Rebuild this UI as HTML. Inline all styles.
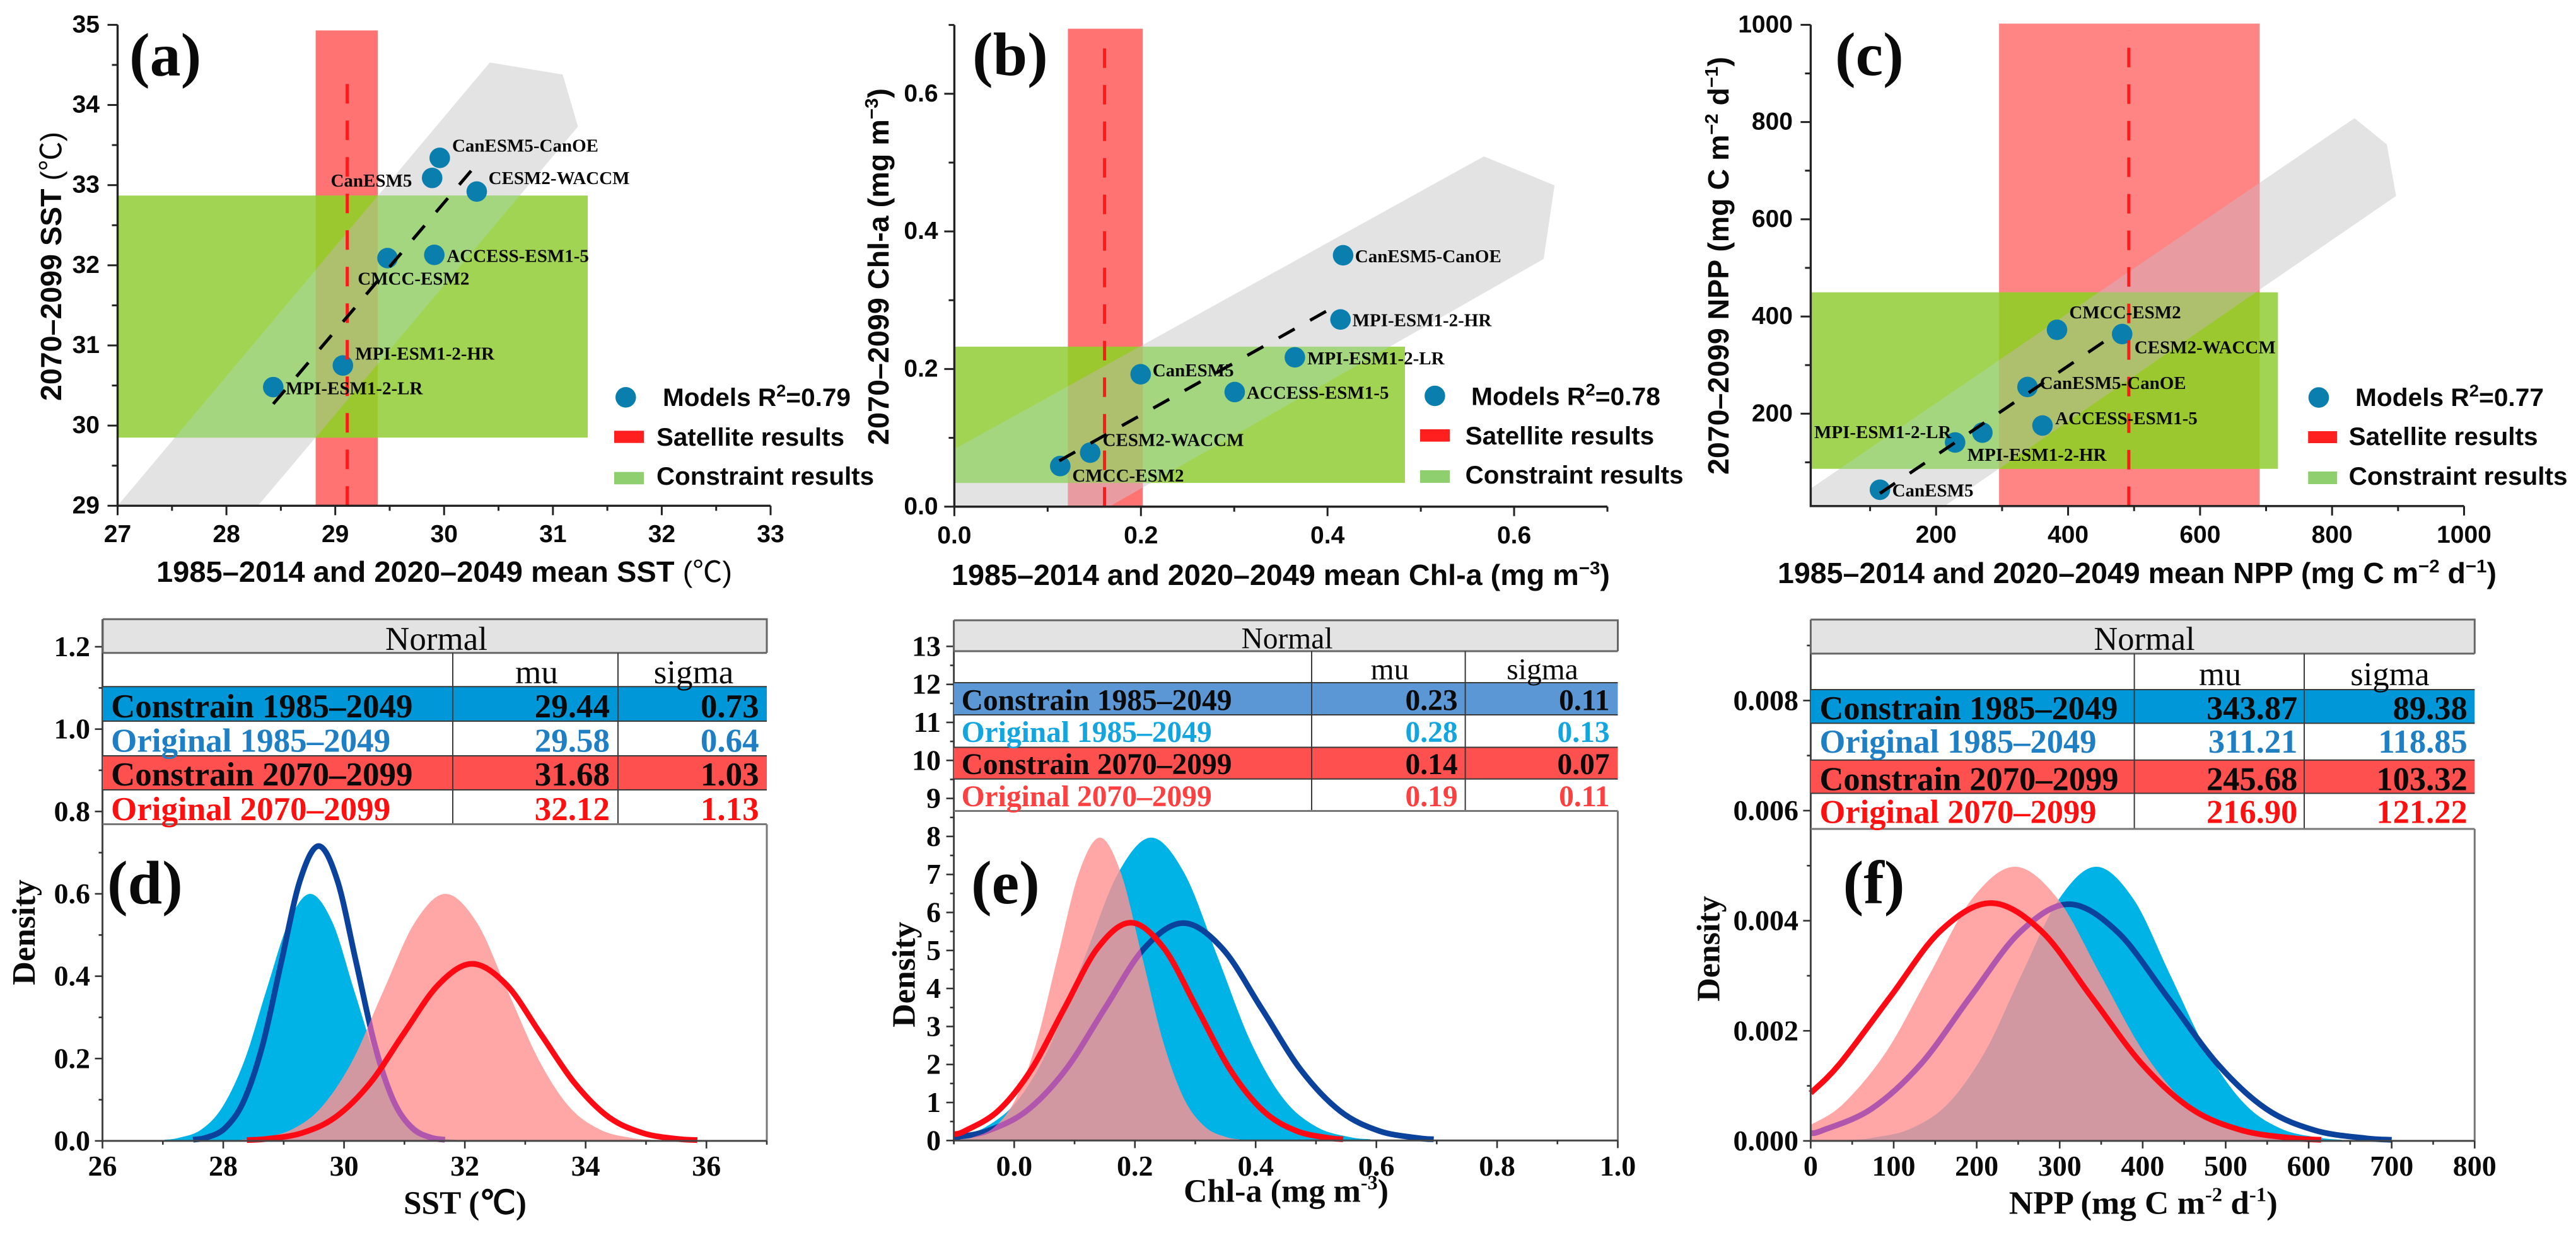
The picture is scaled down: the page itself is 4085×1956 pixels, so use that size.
<!DOCTYPE html>
<html lang="en">
<head>
<meta charset="utf-8">
<title>SST, Chl-a and NPP constraint figure</title>
<style>
html,body{margin:0;padding:0;background:#fff}
svg{display:block}
text{fill:#0a0a0a}
.sans{font-family:"Liberation Sans",Arial,sans-serif;font-weight:700}
.serif{font-family:"Liberation Serif","Times New Roman",serif;font-weight:700}
.tick-sans{font-family:"Liberation Sans",Arial,sans-serif;font-weight:700;font-size:39px}
.tick-serif{font-family:"Liberation Serif","Times New Roman",serif;font-weight:700;font-size:46px}
.title{font-family:"Liberation Sans",Arial,sans-serif;font-weight:700;font-size:46px}
.thin{font-family:"Liberation Sans","Noto Sans CJK SC",sans-serif;font-weight:400}
.leg{font-family:"Liberation Sans",Arial,sans-serif;font-weight:700;font-size:40px}
.letter{font-family:"Liberation Serif","Times New Roman",serif;font-weight:700;font-size:98px}
.model{font-family:"Liberation Serif","Times New Roman",serif;font-weight:700;font-size:29px}
.stitle{font-family:"Liberation Serif","Times New Roman",serif;font-weight:700;font-size:52px}
.tb{font-family:"Liberation Serif","Times New Roman",serif;font-weight:700}
.tn{font-family:"Liberation Serif","Times New Roman",serif;font-weight:400}
.end{text-anchor:end}
.mid{text-anchor:middle}
</style>
</head>
<body>
<svg id="figure" xmlns="http://www.w3.org/2000/svg" width="4085" height="1956" viewBox="0 0 4085 1956">
<defs id="clips"></defs>

<g id="panel-a"></g>
<g id="panel-b"></g>
<g id="panel-c"></g>
<g id="panel-d"></g>
<g id="panel-e"></g>
<g id="panel-f"></g>

<!-- panel a text -->
<g>
<text class="letter" x="205" y="120">(a)</text>
<text class="title" x="248" y="923" textLength="913" lengthAdjust="spacingAndGlyphs">1985–2014 and 2020–2049 mean SST <tspan class="thin">(℃)</tspan></text>
<text class="title" x="97" y="636" textLength="427" lengthAdjust="spacingAndGlyphs" transform="rotate(-90 97 636)">2070–2099 SST <tspan class="thin">(℃)</tspan></text>
<circle cx="992.3" cy="630.3" r="16.3" fill="#0a7fae"/>
<text class="leg" x="1051" y="644" textLength="298" lengthAdjust="spacingAndGlyphs">Models R<tspan font-size="27" dy="-15">2</tspan><tspan dy="15">=0.79</tspan></text>
<rect x="974" y="683.3" width="47" height="19.4" fill="#ff1f1f"/>
<text class="leg" x="1041" y="707" textLength="298" lengthAdjust="spacingAndGlyphs">Satellite results</text>
<rect x="974" y="748.7" width="47" height="19.6" fill="#90cf6f"/>
<text class="leg" x="1041" y="769" textLength="345" lengthAdjust="spacingAndGlyphs">Constraint results</text>
</g>

<!-- panel b text -->
<g>
<text class="letter" x="1542" y="119">(b)</text>
<text class="title" x="1509" y="928" textLength="1044" lengthAdjust="spacingAndGlyphs">1985–2014 and 2020–2049 mean Chl-a (mg m<tspan font-size="29" dy="-17">−3</tspan><tspan dy="17">)</tspan></text>
<text class="title" x="1409" y="706" textLength="566" lengthAdjust="spacingAndGlyphs" transform="rotate(-90 1409 706)">2070–2099 Chl-a (mg m<tspan font-size="29" dy="-17">−3</tspan><tspan dy="17">)</tspan></text>
<circle cx="2275.4" cy="628" r="16.3" fill="#0a7fae"/>
<text class="leg" x="2333" y="642.5" textLength="300" lengthAdjust="spacingAndGlyphs">Models R<tspan font-size="27" dy="-15">2</tspan><tspan dy="15">=0.78</tspan></text>
<rect x="2252" y="681" width="47" height="19.6" fill="#ff1f1f"/>
<text class="leg" x="2323.6" y="705" textLength="299.6" lengthAdjust="spacingAndGlyphs">Satellite results</text>
<rect x="2252" y="746" width="47" height="20" fill="#90cf6f"/>
<text class="leg" x="2323.6" y="767" textLength="346" lengthAdjust="spacingAndGlyphs">Constraint results</text>
</g>

<!-- panel c text -->
<g>
<text class="letter" x="2910" y="119">(c)</text>
<text class="title" x="2819" y="925" textLength="1140" lengthAdjust="spacingAndGlyphs">1985–2014 and 2020–2049 mean NPP (mg C m<tspan font-size="29" dy="-17">−2</tspan><tspan dy="17"> d</tspan><tspan font-size="29" dy="-17">−1</tspan><tspan dy="17">)</tspan></text>
<text class="title" x="2741" y="753" textLength="663" lengthAdjust="spacingAndGlyphs" transform="rotate(-90 2741 753)">2070–2099 NPP (mg C m<tspan font-size="29" dy="-17">−2</tspan><tspan dy="17"> d</tspan><tspan font-size="29" dy="-17">−1</tspan><tspan dy="17">)</tspan></text>
<circle cx="3677" cy="630.6" r="16.3" fill="#0a7fae"/>
<text class="leg" x="3735" y="644" textLength="299" lengthAdjust="spacingAndGlyphs">Models R<tspan font-size="27" dy="-15">2</tspan><tspan dy="15">=0.77</tspan></text>
<rect x="3660.2" y="684" width="46" height="19" fill="#ff1f1f"/>
<text class="leg" x="3724.6" y="706" textLength="300" lengthAdjust="spacingAndGlyphs">Satellite results</text>
<rect x="3660.2" y="748" width="46" height="20" fill="#90cf6f"/>
<text class="leg" x="3724.6" y="769" textLength="347" lengthAdjust="spacingAndGlyphs">Constraint results</text>
</g>

<!-- panel d table -->
<g>
<rect x="163" y="982.3" width="1053" height="53.4" fill="#e3e3e3"/>
<rect x="163" y="1089.3" width="1053" height="54.7" fill="#0097d8"/>
<rect x="163" y="1199" width="1053" height="54" fill="#ff5050"/>
<path d="M163 982.3H1216V1035.7M163 982.3V1035.7M163 1035.7H1216" fill="none" stroke="#666" stroke-width="3"/>
<path d="M163 1089.3H1216M163 1144H1216M163 1199H1216M163 1253H1216M718 1035.7V1307.5M980 1035.7V1307.5" fill="none" stroke="#3a3a3a" stroke-width="2"/>
<path d="M163 1307.5H1216" fill="none" stroke="#777" stroke-width="3"/>
<text class="tn mid" font-size="53" x="692" y="1031">Normal</text>
<text class="tn mid" font-size="53" x="851" y="1084">mu</text>
<text class="tn mid" font-size="53" x="1100" y="1084">sigma</text>
<text class="tb" font-size="53" x="176" y="1138">Constrain 1985–2049</text>
<text class="tb end" font-size="53" x="967" y="1138">29.44</text>
<text class="tb end" font-size="53" x="1203.6" y="1138">0.73</text>
<text class="tb" font-size="53" x="176" y="1192.5" style="fill:#1e7fc4">Original 1985–2049</text>
<text class="tb end" font-size="53" x="967" y="1192.5" style="fill:#1e7fc4">29.58</text>
<text class="tb end" font-size="53" x="1203.6" y="1192.5" style="fill:#1e7fc4">0.64</text>
<text class="tb" font-size="53" x="176" y="1246">Constrain 2070–2099</text>
<text class="tb end" font-size="53" x="967" y="1246">31.68</text>
<text class="tb end" font-size="53" x="1203.6" y="1246">1.03</text>
<text class="tb" font-size="53" x="176" y="1301" style="fill:#ff1010">Original 2070–2099</text>
<text class="tb end" font-size="53" x="967" y="1301" style="fill:#ff1010">32.12</text>
<text class="tb end" font-size="53" x="1203.6" y="1301" style="fill:#ff1010">1.13</text>
<text class="letter" x="170" y="1433">(d)</text>
<text class="stitle" x="640" y="1925.5" textLength="195" lengthAdjust="spacingAndGlyphs">SST (℃)</text>
<text class="stitle mid" x="55" y="1479" transform="rotate(-90 55 1479)">Density</text>
</g>

<!-- panel e table -->
<g>
<rect x="1512.6" y="984" width="1052.9" height="49" fill="#e3e3e3"/>
<rect x="1512.6" y="1083" width="1052.9" height="51" fill="#5b97d5"/>
<rect x="1512.6" y="1185.5" width="1052.9" height="50.2" fill="#ff5050"/>
<path d="M1512.6 984H2565.5V1033M1512.6 984V1033M1512.6 1033H2565.5" fill="none" stroke="#666" stroke-width="3"/>
<path d="M1512.6 1083H2565.5M1512.6 1134H2565.5M1512.6 1185.5H2565.5M1512.6 1235.7H2565.5M2080 1033V1286.5M2323.6 1033V1286.5" fill="none" stroke="#3a3a3a" stroke-width="2"/>
<path d="M1512.6 1286.5H2565.5" fill="none" stroke="#777" stroke-width="3"/>
<text class="tn mid" font-size="47.5" x="2041" y="1028.6">Normal</text>
<text class="tn mid" font-size="47.5" x="2204" y="1077.5">mu</text>
<text class="tn mid" font-size="47.5" x="2446" y="1077.5">sigma</text>
<text class="tb" font-size="47.5" x="1524.6" y="1126.4">Constrain 1985–2049</text>
<text class="tb end" font-size="47.5" x="2311.6" y="1126.4">0.23</text>
<text class="tb end" font-size="47.5" x="2552.6" y="1126.4">0.11</text>
<text class="tb" font-size="47.5" x="1524.6" y="1177" style="fill:#12a5e0">Original 1985–2049</text>
<text class="tb end" font-size="47.5" x="2311.6" y="1177" style="fill:#12a5e0">0.28</text>
<text class="tb end" font-size="47.5" x="2552.6" y="1177" style="fill:#12a5e0">0.13</text>
<text class="tb" font-size="47.5" x="1524.6" y="1228">Constrain 2070–2099</text>
<text class="tb end" font-size="47.5" x="2311.6" y="1228">0.14</text>
<text class="tb end" font-size="47.5" x="2552.6" y="1228">0.07</text>
<text class="tb" font-size="47.5" x="1524.6" y="1279" style="fill:#ff4040">Original 2070–2099</text>
<text class="tb end" font-size="47.5" x="2311.6" y="1279" style="fill:#ff4040">0.19</text>
<text class="tb end" font-size="47.5" x="2552.6" y="1279" style="fill:#ff4040">0.11</text>
<text class="letter" x="1540" y="1433">(e)</text>
<text class="stitle" x="1877" y="1906.5" textLength="325" lengthAdjust="spacingAndGlyphs">Chl-a (mg m<tspan font-size="32" dy="-20">-3</tspan><tspan dy="20">)</tspan></text>
<text class="stitle mid" x="1450.6" y="1546" transform="rotate(-90 1450.6 1546)">Density</text>
</g>

<!-- panel f table -->
<g>
<rect x="2871.4" y="982.9" width="1052.9" height="54" fill="#e3e3e3"/>
<rect x="2871.4" y="1094" width="1052.9" height="53.4" fill="#0097d8"/>
<rect x="2871.4" y="1205.8" width="1052.9" height="52.7" fill="#ff5050"/>
<path d="M2871.4 982.9H3924.3V1036.9M2871.4 982.9V1036.9M2871.4 1036.9H3924.3" fill="none" stroke="#666" stroke-width="3"/>
<path d="M2871.4 1094H3924.3M2871.4 1147.4H3924.3M2871.4 1205.8H3924.3M2871.4 1258.5H3924.3M3384.6 1036.9V1315M3654 1036.9V1315" fill="none" stroke="#3a3a3a" stroke-width="2"/>
<path d="M2871.4 1315H3924.3" fill="none" stroke="#777" stroke-width="3"/>
<text class="tn mid" font-size="52.5" x="3400.5" y="1031">Normal</text>
<text class="tn mid" font-size="52.5" x="3520.6" y="1087">mu</text>
<text class="tn mid" font-size="52.5" x="3790" y="1087">sigma</text>
<text class="tb" font-size="52.5" x="2885.5" y="1141" textLength="473" lengthAdjust="spacingAndGlyphs">Constrain 1985–2049</text>
<text class="tb end" font-size="52.5" x="3643.4" y="1141">343.87</text>
<text class="tb end" font-size="52.5" x="3912.8" y="1141">89.38</text>
<text class="tb" font-size="52.5" x="2885.5" y="1193.8" style="fill:#1e7fc4">Original 1985–2049</text>
<text class="tb end" font-size="52.5" x="3643.4" y="1193.8" style="fill:#1e7fc4">311.21</text>
<text class="tb end" font-size="52.5" x="3912.8" y="1193.8" style="fill:#1e7fc4">118.85</text>
<text class="tb" font-size="52.5" x="2885.5" y="1253.5">Constrain 2070–2099</text>
<text class="tb end" font-size="52.5" x="3643.4" y="1253.5">245.68</text>
<text class="tb end" font-size="52.5" x="3912.8" y="1253.5">103.32</text>
<text class="tb" font-size="52.5" x="2885.5" y="1305.5" style="fill:#ff1010">Original 2070–2099</text>
<text class="tb end" font-size="52.5" x="3643.4" y="1305.5" style="fill:#ff1010">216.90</text>
<text class="tb end" font-size="52.5" x="3912.8" y="1305.5" style="fill:#ff1010">121.22</text>
<text class="letter" x="2922.6" y="1433">(f)</text>
<text class="stitle" x="3185.8" y="1925.5" textLength="426" lengthAdjust="spacingAndGlyphs">NPP (mg C m<tspan font-size="32" dy="-20">-2</tspan><tspan dy="20"> d</tspan><tspan font-size="32" dy="-20">-1</tspan><tspan dy="20">)</tspan></text>
<text class="stitle mid" x="2726.5" y="1505" transform="rotate(-90 2726.5 1505)">Density</text>
</g>
</svg>

<script>
/* ---------- Panel (a) data ---------- */
const aModels = ['CanESM5-CanOE','CanESM5','CESM2-WACCM','CMCC-ESM2','ACCESS-ESM1-5','MPI-ESM1-2-HR','MPI-ESM1-2-LR'];
const aModelX = [29.96,29.89,30.30,29.48,29.91,29.07,28.43];
const aModelY = [33.34,33.09,32.92,32.09,32.13,30.75,30.48];
const aFitX = [28.43,30.28];
const aFitY = [30.27,33.23];
const aSatelliteX = [28.82,29.39];
const aSatelliteMean = [29.11];
const aSatelliteTop = [34.93];
const aSatelliteMeanTop = [34.28];
const aConstraintX = [27,31.32];
const aConstraintY = [29.85,32.87];
const aSpreadX = [27,30.42,31.09,31.23,28.29];
const aSpreadY = [29,34.53,34.38,33.73,29];
const aXTicks = [27,28,29,30,31,32,33];
const aXLabels = ['27','28','29','30','31','32','33'];
const aXMinor = [27.5,28.5,29.5,30.5,31.5,32.5];
const aYTicks = [29,30,31,32,33,34,35];
const aYLabels = ['29','30','31','32','33','34','35'];
const aYMinor = [29.5,30.5,31.5,32.5,33.5,34.5];

/* ---------- Panel (b) data ---------- */
const bModels = ['CanESM5-CanOE','MPI-ESM1-2-HR','MPI-ESM1-2-LR','CanESM5','ACCESS-ESM1-5','CESM2-WACCM','CMCC-ESM2'];
const bModelX = [0.4167,0.4139,0.365,0.1997,0.3005,0.1456,0.1135];
const bModelY = [0.3653,0.272,0.217,0.1924,0.1666,0.0785,0.059];
const bFitX = [0.1124,0.4046];
const bFitY = [0.0666,0.2885];
const bSatelliteX = [0.1217,0.202];
const bSatelliteMean = [0.161];
const bSatelliteTop = [0.6945];
const bSatelliteMeanTop = [0.676];
const bConstraintX = [0,0.483];
const bConstraintY = [0.0345,0.2325];
const bSpreadX = [0,0,0.5676,0.6433,0.6317,0.166];
const bSpreadY = [0,0.0836,0.509,0.467,0.36,0];
const bXTicks = [0,0.2,0.4,0.6];
const bXLabels = ['0.0','0.2','0.4','0.6'];
const bXMinor = [0.1,0.3,0.5,0.7];
const bYTicks = [0,0.2,0.4,0.6];
const bYLabels = ['0.0','0.2','0.4','0.6'];
const bYMinor = [0.1,0.3,0.5,0.7];

/* ---------- Panel (c) data ---------- */
const cModels = ['CMCC-ESM2','CESM2-WACCM','CanESM5-CanOE','ACCESS-ESM1-5','MPI-ESM1-2-HR','MPI-ESM1-2-LR','CanESM5'];
const cModelX = [383.2,481.9,338.5,361.2,270.1,228.8,114.9];
const cModelY = [372.6,363.8,255,175.7,161,140.8,43.6];
const cFitX = [114.9,460.8];
const cFitY = [36,354];
const cSatelliteX = [295.4,690.2];
const cSatelliteMean = [492];
const cSatelliteTop = [1002.5];
const cSatelliteMeanTop = [988];
const cConstraintX = [10,718];
const cConstraintY = [86.6,449.7];
const cSpreadX = [10,834,883,897,215,10];
const cSpreadY = [46,808,754,648,12,12];
const cXTicks = [200,400,600,800,1000];
const cXLabels = ['200','400','600','800','1000'];
const cXMinor = [100,300,500,700,900];
const cYTicks = [200,400,600,800,1000];
const cYLabels = ['200','400','600','800','1000'];
const cYMinor = [100,300,500,700,900];

/* ---------- Panel (d) data ---------- */
const dFillBlueX = [27.03,27.25,27.62,27.98,28.35,28.71,29.08,29.44,29.81,30.17,30.54,30.90,31.27,31.63,31.85];
const dFillBlueY = [0.003,0.007,0.026,0.081,0.195,0.364,0.530,0.600,0.530,0.364,0.195,0.081,0.026,0.007,0.003];
const dFillRedX = [28.28,28.59,29.11,29.62,30.14,30.65,31.17,31.68,32.20,32.71,33.23,33.74,34.26,34.77,35.08];
const dFillRedY = [0.003,0.007,0.026,0.081,0.195,0.364,0.530,0.600,0.530,0.364,0.195,0.081,0.026,0.007,0.003];
const dLineBlueX = [27.5,27.72,28.03,28.34,28.65,28.96,29.27,29.58,29.89,30.2,30.51,30.82,31.13,31.44,31.67];
const dLineBlueY = [0.003,0.008,0.031,0.097,0.232,0.434,0.632,0.716,0.632,0.434,0.232,0.097,0.031,0.008,0.003];
const dLineRedX = [28.39,28.73,29.30,29.86,30.43,30.99,31.56,32.12,32.69,33.25,33.82,34.38,34.95,35.51,35.85];
const dLineRedY = [0.002,0.005,0.019,0.058,0.14,0.261,0.379,0.43,0.379,0.261,0.14,0.058,0.019,0.005,0.002];
const dXTicks = [26,28,30,32,34,36];
const dXLabels = ['26','28','30','32','34','36'];
const dXMinor = [27,29,31,33,35,37];
const dYTicks = [0,0.2,0.4,0.6,0.8,1.0,1.2];
const dYLabels = ['0.0','0.2','0.4','0.6','0.8','1.0','1.2'];
const dYMinor = [0.1,0.3,0.5,0.7,0.9,1.1];

/* ---------- Panel (e) data ---------- */
const eFillBlueX = [-0.1,-0.048,0.007,0.062,0.117,0.172,0.227,0.282,0.337,0.392,0.447,0.502,0.557,0.59];
const eFillBlueY = [0.088,0.35,1.08,2.59,4.83,7.03,7.97,7.03,4.83,2.59,1.08,0.35,0.088,0.034];
const eFillRedX = [-0.089,-0.068,-0.033,0.002,0.037,0.072,0.107,0.142,0.177,0.212,0.247,0.282,0.317,0.352,0.373];
const eFillRedY = [0.034,0.088,0.35,1.08,2.59,4.83,7.03,7.97,7.03,4.83,2.59,1.08,0.35,0.088,0.034];
const eLineBlueX = [-0.1,-0.045,0.02,0.085,0.15,0.215,0.28,0.345,0.41,0.475,0.54,0.605,0.67,0.695];
const eLineBlueY = [0.08,0.25,0.774,1.857,3.47,5.05,5.72,5.05,3.47,1.857,0.774,0.25,0.063,0.034];
const eLineRedX = [-0.1,-0.082,-0.027,0.028,0.083,0.138,0.193,0.248,0.303,0.358,0.413,0.468,0.523,0.545];
const eLineRedY = [0.166,0.25,0.775,1.86,3.475,5.06,5.73,5.06,3.475,1.86,0.775,0.25,0.064,0.034];
const eXTicks = [0,0.2,0.4,0.6,0.8,1.0];
const eXLabels = ['0.0','0.2','0.4','0.6','0.8','1.0'];
const eXMinor = [-0.1,0.1,0.3,0.5,0.7,0.9];
const eYTicks = [0,1,2,3,4,5,6,7,8,9,10,11,12,13];
const eYLabels = ['0','1','2','3','4','5','6','7','8','9','10','11','12','13'];
const eYMinor = [0.5,1.5,2.5,3.5,4.5,5.5,6.5,7.5,8.5,9.5,10.5,11.5,12.5];

/* ---------- Panel (f) data ---------- */
const fFillBlueX = [0,50,76,120,165,210,254,299,344,389,433,478,523,567,612,640];
const fFillBlueY = [0.00001,0.00002,0.00006,0.00022,0.00067,0.00162,0.00302,0.00439,0.00498,0.00439,0.00302,0.00162,0.00067,0.00022,0.00006,0.00002];
const fFillRedX = [0,39,91,143,194,246,298,349,401,453,504,556,587];
const fFillRedY = [0.00029,0.00067,0.00162,0.00302,0.00439,0.00498,0.00439,0.00302,0.00162,0.00067,0.00022,0.00006,0.00002];
const fLineBlueX = [0,14,73,133,192,252,311,370,430,490,549,608,668,700];
const fLineBlueY = [0.00014,0.00019,0.00058,0.0014,0.00261,0.00379,0.0043,0.00379,0.00261,0.0014,0.00058,0.00019,0.00005,0.00002];
const fLineRedX = [0,35,96,156,217,278,338,399,459,520,581,615];
const fLineRedY = [0.00087,0.0014,0.00262,0.00381,0.00432,0.00381,0.00262,0.0014,0.00058,0.00019,0.00005,0.00002];
const fXTicks = [0,100,200,300,400,500,600,700,800];
const fXLabels = ['0','100','200','300','400','500','600','700','800'];
const fXMinor = [50,150,250,350,450,550,650,750];
const fYTicks = [0,0.002,0.004,0.006,0.008];
const fYLabels = ['0.000','0.002','0.004','0.006','0.008'];
const fYMinor = [0.001,0.003,0.005,0.007,0.009];

/* ---------- Layout: label nudges relative to each model marker ---------- */
const aNudgeDx = [19.6,-160.8,18.6,-47.3,19.6,19.6,19.7];
const aNudgeDy = [-10,13.7,-11.75,42.25,11.2,-9.4,11.25];
const bNudgeDx = [18.9,18.9,19.7,18.9,18.9,19.8,19];
const bNudgeDy = [11,10.6,11.1,3.25,10.6,-10.5,24.6];
const cNudgeDx = [19.4,19.5,19.4,20.2,-23.8,-223.4,19.4];
const cNudgeDy = [-18,30.6,3.25,-2,44.75,-6.9,10.6];

/* ---------- Helpers ---------- */
const NS = 'http://www.w3.org/2000/svg';
const clipsRoot = document.getElementById('clips');

function mk(tag, parent, attrs) {
  const el = document.createElementNS(NS, tag);
  for (const k in attrs) el.setAttribute(k, attrs[k]);
  parent.appendChild(el);
  return el;
}
function lin(d0, d1, r0, r1) {
  return v => r0 + (v - d0) * (r1 - r0) / (d1 - d0);
}
function slug(s) {
  return String(s).toLowerCase().replace(/[^a-z0-9]+/g, '-');
}
function clipRect(id, x0, y0, x1, y1) {
  const c = mk('clipPath', clipsRoot, {id: id});
  mk('rect', c, {x: x0, y: y0, width: Math.max(0, x1 - x0), height: Math.max(0, y1 - y0)});
}
function polyPoints(xs, ys, X, Y) {
  return xs.map((v, i) => X(v) + ',' + Y(ys[i])).join(' ');
}
function smoothPath(xs, ys, X, Y) {
  const p = xs.map((v, i) => [X(v), Y(ys[i])]);
  let d = 'M' + p[0][0].toFixed(2) + ' ' + p[0][1].toFixed(2);
  for (let i = 0; i < p.length - 1; i++) {
    const p0 = p[i - 1] || p[i], p1 = p[i], p2 = p[i + 1], p3 = p[i + 2] || p2;
    const c1x = p1[0] + (p2[0] - p0[0]) / 6, c1y = p1[1] + (p2[1] - p0[1]) / 6;
    const c2x = p2[0] - (p3[0] - p1[0]) / 6, c2y = p2[1] - (p3[1] - p1[1]) / 6;
    d += 'C' + c1x.toFixed(2) + ' ' + c1y.toFixed(2) + ' ' + c2x.toFixed(2) + ' ' + c2y.toFixed(2) + ' ' + p2[0].toFixed(2) + ' ' + p2[1].toFixed(2);
  }
  return d;
}
function fillPath(xs, ys, X, Y, base) {
  return smoothPath(xs, ys, X, Y) + 'L' + X(xs[xs.length - 1]).toFixed(2) + ' ' + base + 'L' + X(xs[0]).toFixed(2) + ' ' + base + 'Z';
}

function drawAxes(root, id, X, Y, a) {
  const x0 = a.xStart, x1 = a.xEnd, y0 = a.yStart, y1 = a.yEnd;
  const axisX = mk('line', root, {x1: x0, x2: x1, y1: y0, y2: y0, stroke: a.axisColor, 'stroke-width': a.axisWidth});
  
  
  const axisY = mk('line', root, {x1: x0, x2: x0, y1: y0 + a.axisWidth / 2, y2: y1, stroke: a.axisColor, 'stroke-width': a.axisWidth});
  
  
  a.xTicks.forEach((v, i) => {
    const t = mk('line', root, {x1: X(v), x2: X(v), y1: y0, y2: y0 + a.xMajor, stroke: a.tickColor, 'stroke-width': a.tickWidth});
    
    
    const s = mk('text', root, {x: X(v), y: a.xLabelY, class: a.tickClass + ' mid'});
    s.textContent = a.xLabels[i];
    
    
  });
  a.xMinorTicks.forEach(v => {
    const t = mk('line', root, {x1: X(v), x2: X(v), y1: y0, y2: y0 + a.xMinor, stroke: a.tickColor, 'stroke-width': a.tickWidth});
    
    
  });
  a.yTicks.forEach((v, i) => {
    const t = mk('line', root, {x1: x0 - a.yMajor, x2: x0, y1: Y(v), y2: Y(v), stroke: a.tickColor, 'stroke-width': a.tickWidth});
    
    
    const s = mk('text', root, {x: a.yLabelX, y: Y(v) + a.yLabelDy, class: a.tickClass + ' end'});
    s.textContent = a.yLabels[i];
    
    
  });
  a.yMinorTicks.forEach(v => {
    const t = mk('line', root, {x1: x0 - a.yMinor, x2: x0, y1: Y(v), y2: Y(v), stroke: a.tickColor, 'stroke-width': a.tickWidth});
    
    
  });
}

function drawScatter(id, X, Y, d) {
  const root = document.getElementById('panel-' + id);
  const rx0 = X(d.satX[0]), rx1 = X(d.satX[1]), ryTop = Y(d.satTop[0]), base = d.base;
  const gx0 = X(d.conX[0]), gx1 = X(d.conX[1]), gyTop = Y(d.conY[1]), gyBot = Y(d.conY[0]);
  const ix0 = Math.max(rx0, gx0), ix1 = Math.min(rx1, gx1), iy0 = Math.max(ryTop, gyTop), iy1 = Math.min(base, gyBot);
  clipRect('clip-red-' + id, rx0, ryTop, rx1, base);
  clipRect('clip-green-' + id, gx0, gyTop, gx1, gyBot);
  clipRect('clip-both-' + id, ix0, iy0, ix1, iy1);
  const pts = polyPoints(d.sprX, d.sprY, X, Y);

  const gray = mk('polygon', root, {points: pts, fill: '#e3e3e3'});
  
  
  const red = mk('rect', root, {x: rx0, y: ryTop, width: rx1 - rx0, height: base - ryTop, fill: d.redFill});
  
  
  const green = mk('rect', root, {x: gx0, y: gyTop, width: gx1 - gx0, height: gyBot - gyTop, fill: '#a2d454'});
  
  
  const both = mk('rect', root, {x: ix0, y: iy0, width: ix1 - ix0, height: iy1 - iy0, fill: '#9bc82e'});
  
  
  const grayRed = mk('polygon', root, {points: pts, fill: '#e89ba0', 'clip-path': 'url(#clip-red-' + id + ')'});
  
  
  const grayGreen = mk('polygon', root, {points: pts, fill: '#a4d680', 'clip-path': 'url(#clip-green-' + id + ')'});
  
  
  const grayBoth = mk('polygon', root, {points: pts, fill: '#aec06e', 'clip-path': 'url(#clip-both-' + id + ')'});
  
  

  const mx = X(d.satMean[0]);
  d.names.forEach((n, i) => {
    const c = mk('circle', root, {cx: X(d.mx[i]), cy: Y(d.my[i]), r: 16.3, fill: '#0a7fae'});
    
    
  });
  const mean = mk('line', root, {x1: mx, x2: mx, y1: base, y2: Y(d.satMeanTop[0]), stroke: '#ff1a1a', 'stroke-width': 5, 'stroke-dasharray': '31 27'});
  
  
  const fit = mk('line', root, {x1: X(d.fitX[0]), y1: Y(d.fitY[0]), x2: X(d.fitX[1]), y2: Y(d.fitY[1]), stroke: '#000', 'stroke-width': 5, 'stroke-dasharray': '29 28'});
  
  
  d.names.forEach((n, i) => {
    const s = mk('text', root, {x: X(d.mx[i]) + d.ndx[i], y: Y(d.my[i]) + d.ndy[i], class: 'model'});
    s.textContent = n;
    
    
  });
  drawAxes(root, id, X, Y, d.axes);
}

function drawDensity(id, X, Y, d) {
  const root = document.getElementById('panel-' + id);
  const base = Y(0);
  const fb = mk('path', root, {d: fillPath(d.fbx, d.fby, X, Y, base), fill: '#00b3e6'});
  
  
  const lb = mk('path', root, {d: smoothPath(d.lbx, d.lby, X, Y), fill: 'none', stroke: '#0a429c', 'stroke-width': 9, 'stroke-linejoin': 'round'});
  
  
  const fr = mk('path', root, {d: fillPath(d.frx, d.fry, X, Y, base), fill: 'rgb(255,146,146)', 'fill-opacity': 0.82});
  
  
  const c = mk('clipPath', clipsRoot, {id: 'clip-pink-' + id});
  mk('path', c, {d: fillPath(d.frx, d.fry, X, Y, base + 10)});
  const lp = mk('path', root, {d: smoothPath(d.lbx, d.lby, X, Y), fill: 'none', stroke: '#b057ad', 'stroke-width': 9, 'clip-path': 'url(#clip-pink-' + id + ')'});
  
  
  const lr = mk('path', root, {d: smoothPath(d.lrx, d.lry, X, Y), fill: 'none', stroke: '#ff0a14', 'stroke-width': 9, 'stroke-linejoin': 'round'});
  
  
  const frame = mk('line', root, {x1: d.axes.xEnd, x2: d.axes.xEnd, y1: d.frameTop, y2: base, stroke: '#777', 'stroke-width': 3});
  
  
  drawAxes(root, id, X, Y, d.axes);
}

/* ---------- Render ---------- */
const sansAxis = {axisColor: '#222', axisWidth: 3.4, tickColor: '#222', tickWidth: 3, xMajor: 15, xMinor: 8, yMajor: 16, yMinor: 9, tickClass: 'tick-sans', yLabelDy: 12};
const serifAxis = {axisColor: '#444', axisWidth: 3, tickColor: '#333', tickWidth: 2.6, xMajor: 12, xMinor: 6, yMajor: 12, yMinor: 6, tickClass: 'tick-serif', yLabelDy: 15};

drawScatter('a', lin(27, 33, 186.5, 1222), lin(29, 35, 802.3, 39.4), {
  names: aModels, mx: aModelX, my: aModelY, ndx: aNudgeDx, ndy: aNudgeDy, fitX: aFitX, fitY: aFitY,
  satX: aSatelliteX, satTop: aSatelliteTop, satMean: aSatelliteMean, satMeanTop: aSatelliteMeanTop,
  conX: aConstraintX, conY: aConstraintY, sprX: aSpreadX, sprY: aSpreadY, base: 802.3, redFill: '#ff7373',
  axes: Object.assign({}, sansAxis, {xStart: 186.5, xEnd: 1222, yStart: 802.3, yEnd: 39.4, xTicks: aXTicks, xLabels: aXLabels, xMinorTicks: aXMinor, yTicks: aYTicks, yLabels: aYLabels, yMinorTicks: aYMinor, xLabelY: 860, yLabelX: 158})
});
drawScatter('b', lin(0, 0.7, 1513.4, 2549), lin(0, 0.7, 803.75, 39.6), {
  names: bModels, mx: bModelX, my: bModelY, ndx: bNudgeDx, ndy: bNudgeDy, fitX: bFitX, fitY: bFitY,
  satX: bSatelliteX, satTop: bSatelliteTop, satMean: bSatelliteMean, satMeanTop: bSatelliteMeanTop,
  conX: bConstraintX, conY: bConstraintY, sprX: bSpreadX, sprY: bSpreadY, base: 803.75, redFill: '#ff7373',
  axes: Object.assign({}, sansAxis, {xStart: 1513.4, xEnd: 2549, yStart: 803.75, yEnd: 39.6, xTicks: bXTicks, xLabels: bXLabels, xMinorTicks: bXMinor, yTicks: bYTicks, yLabels: bYLabels, yMinorTicks: bYMinor, xLabelY: 862, yLabelX: 1487.6})
});
drawScatter('c', lin(10, 1000, 2871.4, 3907.5), lin(10, 1000, 802.8, 39.4), {
  names: cModels, mx: cModelX, my: cModelY, ndx: cNudgeDx, ndy: cNudgeDy, fitX: cFitX, fitY: cFitY,
  satX: cSatelliteX, satTop: cSatelliteTop, satMean: cSatelliteMean, satMeanTop: cSatelliteMeanTop,
  conX: cConstraintX, conY: cConstraintY, sprX: cSpreadX, sprY: cSpreadY, base: 802.8, redFill: '#ff8585',
  axes: Object.assign({}, sansAxis, {xStart: 2871.4, xEnd: 3907.5, yStart: 802.8, yEnd: 39.4, xTicks: cXTicks, xLabels: cXLabels, xMinorTicks: cXMinor, yTicks: cYTicks, yLabels: cYLabels, yMinorTicks: cYMinor, xLabelY: 861, yLabelX: 2843})
});
drawDensity('d', lin(26, 37, 162.5, 1216), lin(0, 1.2, 1809.9, 1026), {
  fbx: dFillBlueX, fby: dFillBlueY, frx: dFillRedX, fry: dFillRedY, lbx: dLineBlueX, lby: dLineBlueY, lrx: dLineRedX, lry: dLineRedY, frameTop: 1307.5,
  axes: Object.assign({}, serifAxis, {xStart: 162.5, xEnd: 1216, yStart: 1809.9, yEnd: 982.3, xTicks: dXTicks, xLabels: dXLabels, xMinorTicks: dXMinor, yTicks: dYTicks, yLabels: dYLabels, yMinorTicks: dYMinor, xLabelY: 1865, yLabelX: 143})
});
drawDensity('e', lin(-0.1, 1, 1512.6, 2565.5), lin(0, 13, 1809.3, 1025.4), {
  fbx: eFillBlueX, fby: eFillBlueY, frx: eFillRedX, fry: eFillRedY, lbx: eLineBlueX, lby: eLineBlueY, lrx: eLineRedX, lry: eLineRedY, frameTop: 1286.5,
  axes: Object.assign({}, serifAxis, {xStart: 1512.6, xEnd: 2565.5, yStart: 1809.3, yEnd: 984, xTicks: eXTicks, xLabels: eXLabels, xMinorTicks: eXMinor, yTicks: eYTicks, yLabels: eYLabels, yMinorTicks: eYMinor, xLabelY: 1865, yLabelX: 1492})
});
drawDensity('f', lin(0, 800, 2871.4, 3924.3), lin(0, 0.009, 1809.9, 1024), {
  fbx: fFillBlueX, fby: fFillBlueY, frx: fFillRedX, fry: fFillRedY, lbx: fLineBlueX, lby: fLineBlueY, lrx: fLineRedX, lry: fLineRedY, frameTop: 1315,
  axes: Object.assign({}, serifAxis, {xStart: 2871.4, xEnd: 3924.3, yStart: 1809.9, yEnd: 1024, xTicks: fXTicks, xLabels: fXLabels, xMinorTicks: fXMinor, yTicks: fYTicks, yLabels: fYLabels, yMinorTicks: fYMinor, xLabelY: 1865, yLabelX: 2852})
});
</script>
</body>
</html>
